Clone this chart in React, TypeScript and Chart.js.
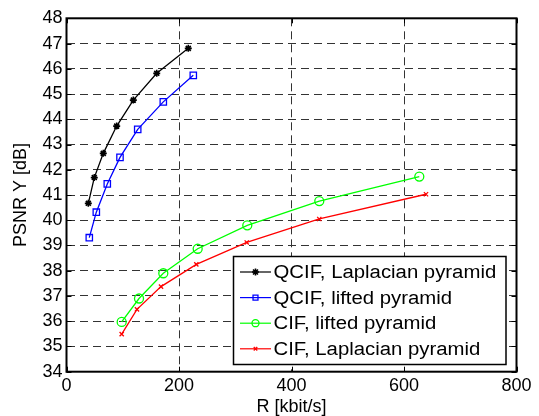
import React, { useEffect, useRef } from 'react';
import { Chart, registerables } from 'chart.js';
import { drawPoint } from 'chart.js/helpers';

Chart.register(...registerables);

const xTicks = [0, 200, 400, 600, 800];
const yTicks = [34, 35, 36, 37, 38, 39, 40, 41, 42, 43, 44, 45, 46, 47, 48];

const seriesLabels = [
  'QCIF, Laplacian pyramid',
  'QCIF, lifted pyramid',
  'CIF, lifted pyramid',
  'CIF, Laplacian pyramid',
];

const qcifLapRate = [38.8, 49.4, 65.4, 89.2, 118.8, 160.4, 216.5];
const qcifLapPsnr = [40.67, 41.69, 42.65, 43.73, 44.76, 45.82, 46.81];

const qcifLiftRate = [40.5, 53.0, 72.5, 95.1, 126.6, 172.1, 225.4];
const qcifLiftPsnr = [39.31, 40.32, 41.44, 42.49, 43.6, 44.69, 45.74];

const cifLiftRate = [98.1, 128.9, 172.1, 233.2, 321.4, 449.4, 627.2];
const cifLiftPsnr = [35.97, 36.9, 37.9, 38.87, 39.8, 40.76, 41.73];

const cifLapRate = [98.1, 125.3, 168.0, 230.8, 320.4, 449.4, 639.1];
const cifLapPsnr = [35.49, 36.47, 37.37, 38.25, 39.12, 40.05, 41.03];

const FONT = "'Liberation Sans', Arial, Helvetica, sans-serif";

const toPoints = (xs: number[], ys: number[]) => xs.map((x, i) => ({ x, y: ys[i] }));

const framePlugin = {
  id: 'matlabFrame',
  afterDraw(chart: any) {
    const { ctx, chartArea, scales } = chart;
    const { left, right, top, bottom } = chartArea;
    const xs = scales.x;
    const ys = scales.y;
    ctx.save();

    // legend box
    const lx = 233.5;
    const ly = 256.5;
    const lw = 272.5;
    const lh = 108;
    ctx.fillStyle = '#fff';
    ctx.fillRect(lx, ly, lw, lh);
    ctx.strokeStyle = '#000';
    ctx.lineWidth = 1.5;
    ctx.strokeRect(lx, ly, lw, lh);
    chart.data.datasets.forEach((ds: any, i: number) => {
      const cy = ly + 15.5 + i * 25.6;
      ctx.strokeStyle = ds.borderColor;
      ctx.lineWidth = 1.2;
      ctx.beginPath();
      ctx.moveTo(lx + 6.5, cy);
      ctx.lineTo(lx + 37.5, cy);
      ctx.stroke();
      ctx.save();
      ctx.strokeStyle = ds.pointBorderColor;
      ctx.fillStyle = ds.pointBackgroundColor;
      ctx.lineWidth = ds.pointBorderWidth;
      drawPoint(ctx, {
        pointStyle: ds.pointStyle,
        radius: ds.pointStyle === 'crossRot' ? 2.5 : 3.5,
        borderWidth: ds.pointBorderWidth,
        rotation: 0,
      } as any, lx + 22, cy);
      ctx.restore();
      ctx.fillStyle = '#000';
      ctx.textBaseline = 'middle';
      ctx.textAlign = 'left';
      ctx.font = `18px ${FONT}`;
      ctx.save();
      ctx.translate(lx + 40, cy + 1);
      ctx.scale(1.13, 1);
      ctx.fillText(ds.label, 0, 0);
      ctx.restore();
    });

    // inward ticks
    ctx.strokeStyle = '#000';
    ctx.lineWidth = 1;
    ctx.beginPath();
    for (const v of xTicks) {
      const px = Math.round(xs.getPixelForValue(v)) + 0.5;
      ctx.moveTo(px, bottom);
      ctx.lineTo(px, bottom - 5);
      ctx.moveTo(px, top);
      ctx.lineTo(px, top + 5);
    }
    for (const v of yTicks) {
      const py = Math.round(ys.getPixelForValue(v)) + 0.5;
      ctx.moveTo(left, py);
      ctx.lineTo(left + 5, py);
      ctx.moveTo(right, py);
      ctx.lineTo(right - 5, py);
    }
    ctx.stroke();

    // box
    ctx.lineWidth = 2;
    ctx.strokeRect(left, top, right - left, bottom - top);
    ctx.restore();
  },
};

export default function App() {
  const ref = useRef<HTMLCanvasElement | null>(null);

  useEffect(() => {
    if (!ref.current) return;
    const common = { fill: false, borderWidth: 1.3, tension: 0 };
    const chart = new Chart(ref.current, {
      type: 'line',
      data: {
        datasets: [
          {
            ...common,
            label: seriesLabels[0],
            data: toPoints(qcifLapRate, qcifLapPsnr),
            borderColor: '#000000',
            backgroundColor: '#000000',
            pointStyle: 'star',
            pointRadius: 3.5,
            pointBorderWidth: 1.6,
            pointBorderColor: '#000000',
            pointBackgroundColor: '#000000',
          },
          {
            ...common,
            label: seriesLabels[1],
            data: toPoints(qcifLiftRate, qcifLiftPsnr),
            borderColor: '#0000ff',
            backgroundColor: '#0000ff',
            pointStyle: 'rect',
            pointRadius: 4.5,
            pointBorderWidth: 1.3,
            pointBorderColor: '#0000ff',
            pointBackgroundColor: 'rgba(255,255,255,0)',
          },
          {
            ...common,
            label: seriesLabels[2],
            data: toPoints(cifLiftRate, cifLiftPsnr),
            borderColor: '#00ff00',
            backgroundColor: '#00ff00',
            pointStyle: 'circle',
            pointRadius: 4.5,
            pointBorderWidth: 1.3,
            pointBorderColor: '#00ff00',
            pointBackgroundColor: 'rgba(255,255,255,0)',
          },
          {
            ...common,
            label: seriesLabels[3],
            data: toPoints(cifLapRate, cifLapPsnr),
            borderColor: '#ff0000',
            backgroundColor: '#ff0000',
            pointStyle: 'crossRot',
            pointRadius: 3,
            pointBorderWidth: 1.3,
            pointBorderColor: '#ff0000',
            pointBackgroundColor: '#ff0000',
          },
        ],
      },
      options: {
        animation: false,
        responsive: false,
        events: [],
        layout: { padding: { top: 18.3, right: 22.5, bottom: 0, left: 0 } },
        plugins: {
          legend: { display: false },
          tooltip: { enabled: false },
        },
        scales: {
          x: {
            type: 'linear',
            min: 0,
            max: 800,
            afterBuildTicks: (s: any) => {
              s.ticks = xTicks.map((v) => ({ value: v }));
            },
            afterFit: (s: any) => {
              s.height = 44.3;
            },
            ticks: {
              color: '#000',
              font: { family: FONT, size: 18 },
              padding: 4,
              maxRotation: 0,
            },
            grid: { color: '#333333', lineWidth: 1, drawTicks: false },
            border: { display: false, dash: [8, 5] },
            title: {
              display: true,
              text: 'R [kbit/s]',
              color: '#000',
              font: { family: FONT, size: 18, lineHeight: 1 },
              padding: { top: 0, bottom: 0 },
            },
          },
          y: {
            type: 'linear',
            min: 34,
            max: 48,
            afterBuildTicks: (s: any) => {
              s.ticks = yTicks.map((v) => ({ value: v }));
            },
            afterFit: (s: any) => {
              s.width = 66.5;
            },
            ticks: {
              color: '#000',
              font: { family: FONT, size: 18 },
              padding: 4,
            },
            grid: { color: '#333333', lineWidth: 1, drawTicks: false },
            border: { display: false, dash: [8, 5] },
            title: {
              display: true,
              text: 'PSNR Y [dB]',
              color: '#000',
              font: { family: FONT, size: 18, lineHeight: 1.2 },
              padding: { top: 10, bottom: 0 },
            },
          },
        },
      },
      plugins: [framePlugin],
    } as any);
    return () => chart.destroy();
  }, []);

  return (
    <div style={{ position: 'fixed', left: 0, top: 0, width: 539, height: 416, background: '#fff' }}>
      <canvas ref={ref} width={539} height={416} style={{ display: 'block' }} />
    </div>
  );
}
